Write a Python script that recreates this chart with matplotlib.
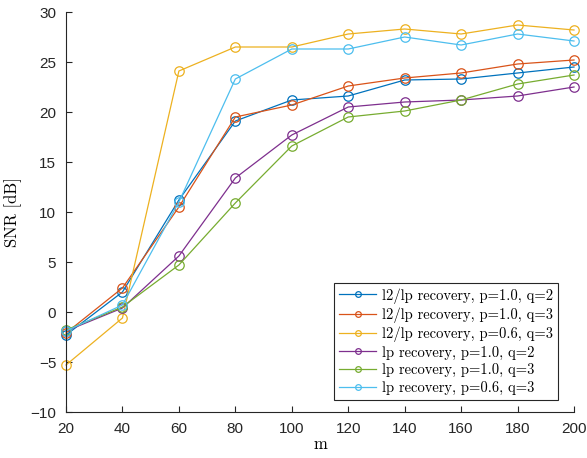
import matplotlib as mpl
mpl.use('Agg')
from matplotlib import pyplot as plt
import numpy as np

m = [20, 40, 60, 80, 100, 120, 140, 160, 180, 200]

l2lp_p10_q2 = [-2.3, 2.0, 11.2, 19.1, 21.2, 21.6, 23.2, 23.3, 23.9, 24.5]
l2lp_p10_q3 = [-2.1, 2.4, 10.5, 19.5, 20.7, 22.6, 23.4, 23.9, 24.8, 25.2]
l2lp_p06_q3 = [-5.3, -0.6, 24.1, 26.5, 26.5, 27.8, 28.3, 27.8, 28.7, 28.2]
lp_p10_q2 = [-1.9, 0.4, 5.6, 13.4, 17.7, 20.5, 21.0, 21.2, 21.6, 22.5]
lp_p10_q3 = [-1.8, 0.5, 4.7, 10.9, 16.6, 19.5, 20.1, 21.2, 22.8, 23.7]
lp_p06_q3 = [-1.9, 0.7, 11.0, 23.3, 26.3, 26.3, 27.5, 26.7, 27.8, 27.1]

series = [
    (l2lp_p10_q2, '#0072BD', 'l2/lp recovery, p=1.0, q=2'),
    (l2lp_p10_q3, '#D95319', 'l2/lp recovery, p=1.0, q=3'),
    (l2lp_p06_q3, '#EDB120', 'l2/lp recovery, p=0.6, q=3'),
    (lp_p10_q2, '#7E2F8E', 'lp recovery, p=1.0, q=2'),
    (lp_p10_q3, '#77AC30', 'lp recovery, p=1.0, q=3'),
    (lp_p06_q3, '#4DBEEE', 'lp recovery, p=0.6, q=3'),
]

fig = plt.figure(figsize=(5.87, 4.58), dpi=100)
ax = fig.add_axes([66/587, 46/458, 508/587, 400/458])

for y, c, lab in series:
    ax.plot(m, y, color=c, linewidth=0.9, marker='o', markersize=6.8,
            markerfacecolor='none', markeredgewidth=0.9, label=lab, clip_on=False)

ax.set_xlim(20, 200)
ax.set_ylim(-10, 30)
ax.set_xticks(np.arange(20, 201, 20))
ax.set_yticks(np.arange(-10, 31, 5))
ax.spines['top'].set_visible(False)
ax.spines['right'].set_visible(False)
for s in ['left', 'bottom']:
    ax.spines[s].set_color('#262626')
    ax.spines[s].set_linewidth(0.8)
ax.tick_params(direction='in', length=4, width=0.8, color='#262626',
               labelsize=11, labelcolor='#262626', pad=7)
for t in ax.get_xticklabels() + ax.get_yticklabels():
    t.set_family('Liberation Sans')

ax.set_xlabel('m', family='cmr10', fontsize=12, labelpad=1)
ax.set_ylabel('SNR [dB]', family='cmr10', fontsize=12, labelpad=6)

leg = ax.legend(loc='lower right', bbox_to_anchor=(0.9685, 0.03),
                prop={'family': 'cmr10', 'size': 10.5}, fancybox=False,
                edgecolor='#262626', framealpha=1, borderpad=0.35,
                labelspacing=0.25, handlelength=2.5, handletextpad=0.4,
                borderaxespad=0, markerscale=0.6)
leg.get_frame().set_linewidth(0.8)

fig.savefig('out.png', dpi=100)
